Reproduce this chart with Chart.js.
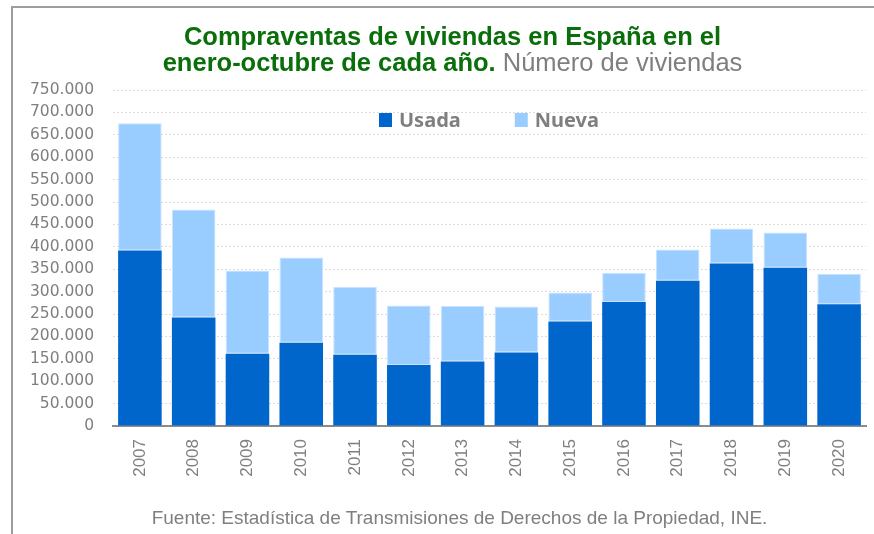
<!DOCTYPE html>
<html lang="es">
<head>
<meta charset="utf-8">
<title>Compraventas de viviendas en España</title>
<script src="https://cdn.jsdelivr.net/npm/chart.js@4"></script>
<style>
    html, body { margin: 0; padding: 0; background: #fff; }
    body { width: 874px; height: 534px; position: relative; overflow: hidden; }
    #marco { position: absolute; left: 11px; top: 6px; width: 900px; height: 600px; border: 2px solid #9e9e9e; }
    #grafico { position: absolute; left: 0; top: 0; }
    #titulo {
        position: absolute; left: 0; top: 23px; width: 905px; text-align: center;
        font-family: "Liberation Sans", Arial, sans-serif; font-size: 25.5px; line-height: 26px;
        color: #0a6e0a; font-weight: bold;
    }
    #titulo span { color: #7f7f7f; font-weight: normal; }
    #fuente {
        position: absolute; left: 0; top: 508px; width: 919px; text-align: center;
        font-family: "Liberation Sans", Arial, sans-serif; font-size: 19px; line-height: 20px;
        color: #7f7f7f;
    }
</style>
</head>
<body>
<div id="marco"></div>
<canvas id="grafico" width="874" height="534"></canvas>
<div id="titulo">Compraventas de viviendas en España en el<br>enero-octubre de cada año.<span> Número de viviendas</span></div>
<div id="fuente">Fuente: Estadística de Transmisiones de Derechos de la Propiedad, INE.</div>

<script>
// Datos (número de viviendas, enero-octubre)
const anios = ['2007', '2008', '2009', '2010', '2011', '2012', '2013', '2014', '2015', '2016', '2017', '2018', '2019', '2020'];
const usada = [392000, 242000, 161000, 186000, 159000, 136000, 144000, 164000, 233000, 277000, 324000, 363000, 353000, 272000];
const nueva = [284000, 241000, 186000, 190000, 151000, 133000, 124000, 103000, 65000, 65000, 70000, 78000, 79000, 68000];

const gris = '#7f7f7f';

// Formato español: 750.000
function formatoMiles(v) {
    return String(v).replace(/\B(?=(\d{3})+(?!\d))/g, '.');
}

// Leyenda dibujada dentro del área del gráfico
const leyendaInterna = {
    id: 'leyendaInterna',
    afterDraw(chart) {
        const ctx = chart.ctx;
        const area = chart.chartArea;
        let x = area.left + 266;
        const y = area.top + 23;
        ctx.save();
        ctx.font = 'bold 20px "Noto Sans", sans-serif';
        ctx.textBaseline = 'alphabetic';
        chart.data.datasets.forEach(ds => {
            ctx.fillStyle = ds.backgroundColor;
            ctx.fillRect(x, y, 13, 14);
            ctx.fillStyle = gris;
            ctx.fillText(ds.label, x + 20, y + 14);
            x += 20 + ctx.measureText(ds.label).width + 54;
        });
        ctx.restore();
    }
};

const ctx = document.getElementById('grafico').getContext('2d');
const chart = new Chart(ctx, {
    type: 'bar',
    data: {
        labels: anios,
        datasets: [
            {
                label: 'Usada',
                data: usada,
                backgroundColor: '#0066cc',
                borderColor: '#0066cc',
                borderWidth: 0,
                barPercentage: 0.81,
                categoryPercentage: 1.0
            },
            {
                label: 'Nueva',
                data: nueva,
                backgroundColor: '#99ccff',
                borderColor: '#c8e3ff',
                borderWidth: 1,
                borderSkipped: false,
                barPercentage: 0.81,
                categoryPercentage: 1.0
            }
        ]
    },
    options: {
        responsive: false,
        animation: false,
        devicePixelRatio: 1,
        layout: { padding: { top: 90, right: 8, left: 0, bottom: 0 } },
        plugins: {
            legend: { display: false },
            title: { display: false },
            tooltip: { enabled: false }
        },
        scales: {
            x: {
                stacked: true,
                grid: { display: false, drawTicks: false },
                border: { display: true, color: '#8c8c8c', width: 2 },
                ticks: {
                    color: gris,
                    font: { family: '"Liberation Sans", Arial, sans-serif', size: 17 },
                    minRotation: 90,
                    maxRotation: 90,
                    autoSkip: false,
                    padding: 13
                },
                afterFit(scale) { scale.height = 108; }
            },
            y: {
                stacked: true,
                min: 0,
                max: 750000,
                grid: { color: '#dcdcdc', drawTicks: false, tickBorderDash: [2, 2] },
                border: { display: false, dash: [2, 2] },
                ticks: {
                    stepSize: 50000,
                    color: gris,
                    font: { family: '"DejaVu Sans", sans-serif', size: 15.5 },
                    padding: 19,
                    callback: v => formatoMiles(v)
                },
                afterFit(scale) { scale.width = 113; }
            }
        }
    },
    plugins: [leyendaInterna]
});
</script>
</body>
</html>
